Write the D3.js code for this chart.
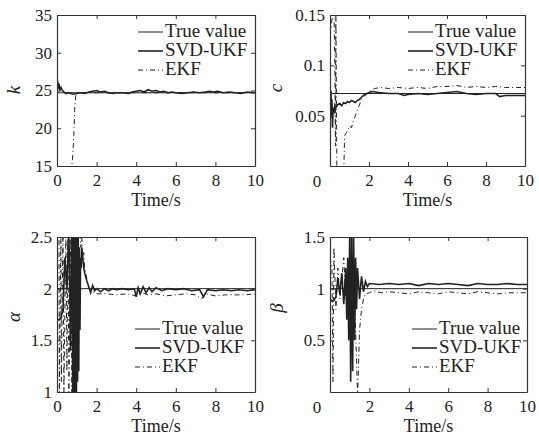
<!DOCTYPE html>
<html>
<head>
<meta charset="utf-8">
<script src="https://cdn.jsdelivr.net/npm/d3@7"></script>
<style>
  body { margin: 0; background: #fff; }
  svg text { font-family: "Liberation Serif", "Times New Roman", serif; fill: #222; }
</style>
</head>
<body>
<div id="chart"></div>
<script>
// series names shown in every legend
const seriesNames = ["True value", "SVD-UKF", "EKF"];

// ---- k ----
const kTicks = [15, 20, 25, 30, 35];
const kTrue = [[0, 24.7], [10, 24.7]];
const kUkf = [[0, 24.8], [0.03, 26.3], [0.06, 25.2], [0.1, 25.9], [0.14, 25.0], [0.2, 25.4], [0.3, 24.9],
  [0.45, 24.6], [0.6, 24.7], [0.8, 24.5], [1.0, 24.6], [1.2, 24.7], [1.4, 24.6], [1.6, 24.8], [1.8, 24.9],
  [2.0, 25.0], [2.2, 24.8], [2.4, 24.9], [2.6, 24.7], [2.8, 24.6], [3.0, 24.7], [3.3, 24.7], [3.6, 24.6],
  [3.8, 24.8], [4.0, 24.9], [4.2, 25.0], [4.4, 24.8], [4.6, 25.1], [4.8, 24.9], [5.0, 25.0], [5.2, 24.8],
  [5.4, 24.9], [5.6, 24.7], [5.8, 24.8], [6.0, 24.7], [6.3, 24.6], [6.6, 24.7], [6.9, 24.8], [7.2, 24.7],
  [7.5, 24.8], [7.7, 24.9], [7.9, 24.8], [8.1, 24.9], [8.4, 24.7], [8.7, 24.8], [9.0, 24.7], [9.3, 24.6],
  [9.6, 24.8], [10, 24.7]];
const kEkf = [[0, 10], [0.6, 12], [0.72, 14.5], [0.78, 15.8], [0.85, 19], [0.9, 23], [0.95, 24.4],
  [1.1, 24.7], [10, 24.7]];

// ---- c ----
const cTicks = [0.05, 0.1, 0.15];
const cTrue = [[0, 0.072], [10, 0.072]];
const cUkf = [[0, 0.072], [0.02, 0.062], [0.05, 0.075], [0.08, 0.048], [0.1, 0.066], [0.13, 0.038],
  [0.16, 0.058], [0.2, 0.052], [0.25, 0.06], [0.3, 0.058], [0.4, 0.061], [0.5, 0.062], [0.6, 0.06],
  [0.7, 0.063], [0.8, 0.062], [0.9, 0.064], [1.0, 0.063], [1.1, 0.065], [1.2, 0.064], [1.3, 0.063],
  [1.4, 0.065], [1.5, 0.066], [1.6, 0.068], [1.7, 0.07], [1.8, 0.071], [1.9, 0.072], [2.0, 0.073],
  [2.2, 0.074], [2.5, 0.073], [3.0, 0.072], [3.5, 0.072], [3.8, 0.070], [4.0, 0.071], [4.5, 0.072],
  [5.0, 0.071], [5.5, 0.072], [6.0, 0.073], [6.5, 0.074], [7.0, 0.072], [7.5, 0.071], [8.0, 0.072],
  [8.5, 0.072], [8.7, 0.069], [9.0, 0.070], [9.5, 0.070], [10, 0.070]];
const cEkf = [[0, 0.13], [0.2, 0.16], [0.25, 0.10], [0.28, 0.02], [0.3, 0.16], [0.35, 0.0], [0.5, -0.01],
  [0.7, -0.01], [0.75, 0.03], [0.8, 0.032], [0.9, 0.035], [1.0, 0.04], [1.1, 0.038], [1.2, 0.045],
  [1.3, 0.05], [1.4, 0.055], [1.5, 0.06], [1.6, 0.066], [1.8, 0.07], [2.0, 0.074], [2.3, 0.077],
  [2.6, 0.078], [3.0, 0.077], [3.5, 0.078], [4.0, 0.077], [4.5, 0.078], [5.0, 0.077], [5.5, 0.079],
  [6.0, 0.079], [6.5, 0.080], [7.0, 0.078], [7.5, 0.079], [8.0, 0.078], [8.5, 0.079], [9.0, 0.078],
  [9.5, 0.078], [10, 0.078]];

// ---- alpha ----
const aTicks = [1, 1.5, 2, 2.5];
const aTrue = [[0, 2.0], [10, 2.0]];
const aUkf = [[0, 1.7], [0.1, 1.7], [0.2, 1.72], [0.3, 1.8], [0.4, 2.3], [0.5, 2.0], [0.6, 2.6],
  [0.68, 1.4], [0.75, 2.6], [0.8, 1.0], [0.83, 2.7], [0.86, 0.9], [0.89, 2.8], [0.92, 1.0], [0.95, 2.7],
  [0.98, 0.9], [1.01, 2.6], [1.04, 1.1], [1.07, 2.6], [1.1, 1.2], [1.13, 2.4], [1.16, 1.6], [1.19, 2.3],
  [1.22, 2.2], [1.25, 2.4], [1.3, 2.3], [1.35, 2.2], [1.4, 2.15], [1.5, 2.08], [1.6, 2.02], [1.7, 1.96],
  [1.8, 2.03], [1.9, 1.98], [2.0, 2.0], [2.2, 1.97], [2.4, 2.0], [2.6, 1.98], [2.8, 2.0], [3.0, 1.99],
  [3.3, 2.0], [3.6, 1.99], [3.9, 2.0], [4.0, 1.92], [4.1, 2.01], [4.2, 1.95], [4.35, 2.02], [4.5, 1.96],
  [4.65, 2.01], [4.8, 1.97], [5.0, 2.01], [5.3, 1.98], [5.6, 2.0], [6.0, 1.99], [6.4, 2.0], [6.8, 1.98],
  [7.2, 1.99], [7.4, 1.92], [7.6, 1.99], [8.0, 1.98], [8.4, 1.99], [8.8, 1.98], [9.2, 1.99], [9.6, 1.98],
  [10, 1.99]];
const aEkf = [[0, 2.5], [0.1, 2.6], [0.12, 1.0], [0.2, 2.6], [0.22, 1.1], [0.3, 2.6], [0.35, 1.0],
  [0.45, 2.6], [0.5, 1.2], [0.55, 2.6], [0.6, 1.0], [0.7, 2.6], [0.75, 1.0], [0.85, 2.7], [0.9, 1.1],
  [1.0, 2.6], [1.05, 2.6], [1.1, 2.5], [1.15, 2.6], [1.2, 2.4], [1.25, 2.5], [1.3, 2.3], [1.35, 2.35],
  [1.4, 2.2], [1.5, 2.1], [1.6, 2.0], [1.8, 1.97], [2.0, 1.95], [2.5, 1.95], [3.0, 1.94], [3.5, 1.95],
  [4.0, 1.93], [4.3, 1.96], [4.6, 1.94], [5.0, 1.95], [5.5, 1.93], [6.0, 1.94], [6.5, 1.95], [7.0, 1.94],
  [7.3, 1.90], [7.5, 1.95], [8.0, 1.93], [8.5, 1.94], [9.0, 1.94], [9.5, 1.94], [10, 1.95]];

// ---- beta ----
const bTicks = [0.5, 1, 1.5];
const bTrue = [[0, 1.0], [10, 1.0]];
const bUkf = [[0, 0.9], [0.1, 0.88], [0.2, 0.89], [0.3, 0.92], [0.4, 1.1], [0.5, 0.95], [0.6, 1.15],
  [0.7, 0.85], [0.8, 1.2], [0.85, 0.7], [0.9, 1.3], [0.95, 0.5], [1.0, 1.55], [1.05, 0.1], [1.1, 1.6],
  [1.15, 0.2], [1.2, 1.5], [1.25, 0.5], [1.3, 1.3], [1.35, 0.8], [1.4, 1.2], [1.5, 0.9], [1.6, 1.12],
  [1.7, 0.97], [1.8, 1.07], [1.9, 1.02], [2.0, 1.05], [2.5, 1.04], [3.0, 1.05], [3.5, 1.04], [4.0, 1.05],
  [4.5, 1.03], [5.0, 1.05], [5.5, 1.04], [6.0, 1.05], [6.5, 1.04], [7.0, 1.03], [7.5, 1.05], [8.0, 1.04],
  [8.5, 1.04], [9.0, 1.05], [9.5, 1.04], [10, 1.04]];
const bEkf = [[0, 1.3], [0.1, 1.2], [0.15, 0.1], [0.2, 1.4], [0.3, 0.8], [0.4, 1.2], [0.5, 0.9],
  [0.6, 1.1], [0.7, 1.3], [0.8, 0.9], [0.9, 1.0], [1.0, 1.2], [1.1, 0.8], [1.2, 1.1], [1.3, 0.6],
  [1.35, 0.3], [1.4, -0.05], [1.5, 0.6], [1.6, 0.8], [1.7, 0.9], [1.8, 0.95], [2.0, 0.96], [2.2, 0.98],
  [2.6, 0.96], [3.0, 0.97], [3.5, 0.96], [4.0, 0.95], [4.5, 0.97], [5.0, 0.96], [5.5, 0.95], [6.0, 0.97],
  [6.5, 0.96], [7.0, 0.95], [7.5, 0.97], [8.0, 0.96], [8.5, 0.95], [9.0, 0.96], [9.5, 0.96], [10, 0.96]];

const timeTicks = [0, 2, 4, 6, 8, 10];

const width = 539, height = 440;
const svg = d3.select("#chart").append("svg")
  .attr("width", width).attr("height", height);

// panel layout: plot box and legend placement
const panels = [
  { id: "k", label: "k", box: [57, 15, 255, 166], yDom: [15, 35], yTicks: kTicks,
    series: [kTrue, kUkf, kEkf], legend: [138, 32], labelPos: [20, 90], cornerZero: false },
  { id: "c", label: "c", box: [330, 15, 525, 166], yDom: [0, 0.15], yTicks: cTicks,
    series: [cTrue, cUkf, cEkf], legend: [408, 32], labelPos: [282, 88], cornerZero: true },
  { id: "a", label: "\u03b1", box: [57, 237, 255, 392], yDom: [1, 2.5], yTicks: aTicks,
    series: [aTrue, aUkf, aEkf], legend: [135, 329], labelPos: [20, 317], cornerZero: false },
  { id: "b", label: "\u03b2", box: [330, 237, 527, 392], yDom: [0, 1.5], yTicks: bTicks,
    series: [bTrue, bUkf, bEkf], legend: [412, 329], labelPos: [283, 308], cornerZero: true }
];

// line styles per series: true, svd-ukf, ekf
const styles = [
  { w: 1, dash: null },
  { w: 1.6, dash: null },
  { w: 1, dash: "5,3,1,3" }
];

panels.forEach(p => {
  const [x0, y0, x1, y1] = p.box;
  const x = d3.scaleLinear().domain([0, 10]).range([x0, x1]);
  const y = d3.scaleLinear().domain(p.yDom).range([y1, y0]);

  svg.append("clipPath").attr("id", "clip-" + p.id)
    .append("rect").attr("x", x0).attr("y", y0).attr("width", x1 - x0).attr("height", y1 - y0);

  const line = d3.line().x(d => x(d[0])).y(d => y(d[1]));

  // data lines
  const g = svg.append("g").attr("clip-path", `url(#clip-${p.id})`);
  p.series.forEach((s, i) => {
    g.append("path")
      .attr("d", line(s))
      .attr("fill", "none")
      .attr("stroke", "#222")
      .attr("stroke-width", styles[i].w)
      .attr("stroke-dasharray", styles[i].dash);
  });

  // axes with inward ticks, box on all sides
  const fmt = d => String(d);
  const xb = svg.append("g").attr("transform", `translate(0,${y1})`)
    .call(d3.axisBottom(x).tickValues(timeTicks).tickSizeInner(-4).tickSizeOuter(0).tickPadding(8)
      .tickFormat(d => (p.cornerZero && d === 0) ? "" : fmt(d)));
  const xt = svg.append("g").attr("transform", `translate(0,${y0})`)
    .call(d3.axisTop(x).tickValues(timeTicks).tickSizeInner(-4).tickSizeOuter(0).tickFormat(""));
  const yl = svg.append("g").attr("transform", `translate(${x0},0)`)
    .call(d3.axisLeft(y).tickValues(p.yTicks).tickSizeInner(-4).tickSizeOuter(0).tickPadding(5).tickFormat(fmt));
  const yr = svg.append("g").attr("transform", `translate(${x1},0)`)
    .call(d3.axisRight(y).tickValues(p.yTicks).tickSizeInner(-4).tickSizeOuter(0).tickFormat(""));
  [xb, xt, yl, yr].forEach(a => {
    a.selectAll("path").attr("stroke", "#333").attr("stroke-width", 1.2);
    a.selectAll("line").attr("stroke", "#333");
    a.selectAll("text").attr("font-size", 17).attr("fill", "#222");
  });

  // "0" sitting left of the corner when the y axis starts at zero
  if (p.cornerZero) {
    svg.append("text")
      .attr("x", x(0) - 13).attr("y", y1 + 21)
      .attr("text-anchor", "middle").attr("font-size", 17)
      .text("0");
  }

  // x axis title
  svg.append("text")
    .attr("x", (x0 + x1) / 2).attr("y", y1 + 40)
    .attr("text-anchor", "middle").attr("font-size", 18)
    .text("Time/s");

  // y axis title (italic, rotated)
  svg.append("text")
    .attr("transform", `translate(${p.labelPos[0]},${p.labelPos[1]}) rotate(-90)`)
    .attr("text-anchor", "middle").attr("font-size", 19).attr("font-style", "italic")
    .text(p.label);

  // legend, no frame
  const [lx, ly] = p.legend;
  seriesNames.forEach((name, i) => {
    const yy = ly + i * 19;
    svg.append("line")
      .attr("x1", lx).attr("x2", lx + 25).attr("y1", yy).attr("y2", yy)
      .attr("stroke", "#222").attr("stroke-width", styles[i].w)
      .attr("stroke-dasharray", styles[i].dash);
    svg.append("text")
      .attr("x", lx + 27).attr("y", yy + 5)
      .attr("font-size", 19)
      .text(name);
  });
});
</script>
</body>
</html>
